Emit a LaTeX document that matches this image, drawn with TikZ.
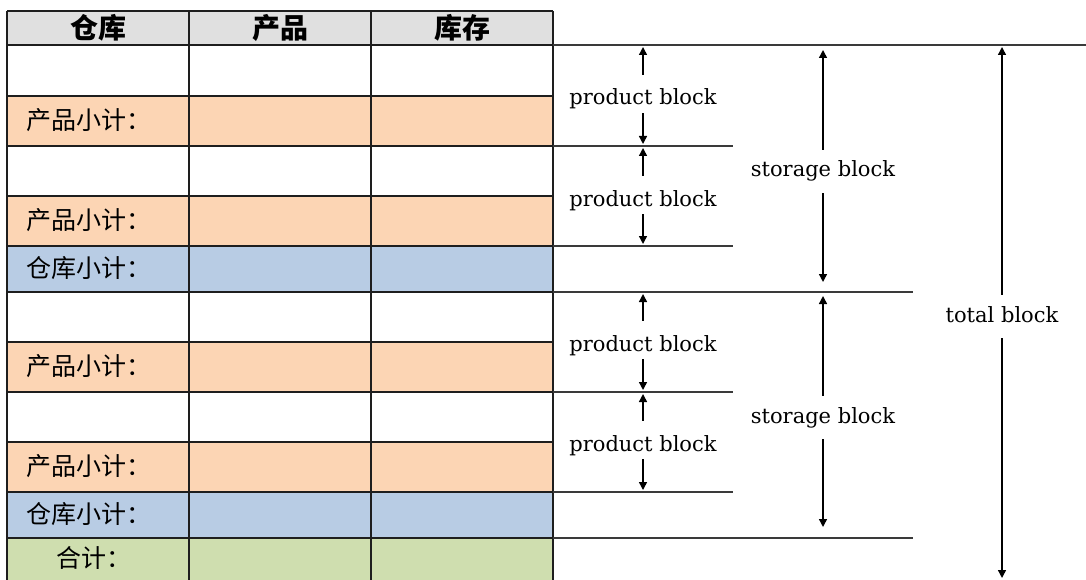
\documentclass[tikz,border=0pt]{standalone}
\usepackage{fontspec}
\setmainfont{DejaVu Serif}
\newfontfamily\cjk{Noto Sans CJK SC}
\usetikzlibrary{arrows.meta}
\definecolor{hdrgray}{HTML}{E0E0E0}
\definecolor{prodsub}{HTML}{FCD5B4}
\definecolor{storesub}{HTML}{B8CCE4}
\definecolor{grandsum}{HTML}{CFDEAF}
\definecolor{gridline}{HTML}{1E1E1E}
\definecolor{markline}{HTML}{3A3A3A}
\tikzset{
  cell/.style={draw=gridline, line width=1.5pt},
  hdrtext/.style={font=\cjk\bfseries\fontsize{28}{28}\selectfont, anchor=center, inner sep=0pt},
  rowtext/.style={font=\cjk\fontsize{25}{25}\selectfont, anchor=west, inner sep=0pt},
  blocklabel/.style={font=\fontsize{21}{21}\selectfont, anchor=base, inner sep=0pt,
                     text height=16pt, text depth=5pt},
  guide/.style={draw=markline, line width=1.5pt},
  dim/.style={draw=black, line width=1.4pt, -{Triangle[width=8pt,length=8pt]}},
}
\begin{document}
\begin{tikzpicture}[x=1pt,y=-1pt]
\useasboundingbox (0,0) rectangle (1086,580);

% table body: row fills
\foreach \top/\bot/\col in {11/45/hdrgray, 45/96/white, 96/146/prodsub, 146/196/white,
    196/246/prodsub, 246/292/storesub, 292/342/white, 342/392/prodsub,
    392/442/white, 442/492/prodsub, 492/538/storesub, 538/584/grandsum}
  \fill[\col] (7,\top) rectangle (553,\bot);

% grid lines
\foreach \y in {11,45,96,146,196,246,292,342,392,442,492,538}
  \draw[cell] (7,\y) -- (553,\y);
\foreach \x in {7,189,371,553}
  \draw[cell] (\x,11) -- (\x,584);

% header
\node[hdrtext] (h1) at (98,28) {仓库};
\node[hdrtext] (h2) at (280,28) {产品};
\node[hdrtext] (h3) at (462,28) {库存};

% row captions
\node[rowtext] (r1) at (26,120) {产品小计：};
\node[rowtext] (r2) at (26,220) {产品小计：};
\node[rowtext] (r3) at (26,268) {仓库小计：};
\node[rowtext] (r4) at (26,366) {产品小计：};
\node[rowtext] (r5) at (26,466) {产品小计：};
\node[rowtext] (r6) at (26,514) {仓库小计：};
\node[rowtext] (r7) at (56,558) {合计：};

% guide lines to the right of the table
\draw[guide] (553,45) -- (1086,45);
\draw[guide] (553,146) -- (733,146);
\draw[guide] (553,246) -- (733,246);
\draw[guide] (553,292) -- (913,292);
\draw[guide] (553,392) -- (733,392);
\draw[guide] (553,492) -- (733,492);
\draw[guide] (553,538) -- (913,538);

% arrow tips on the guide lines
\coordinate (pa1) at (643,47);  \coordinate (pb1) at (643,144);
\coordinate (pa2) at (643,148); \coordinate (pb2) at (643,244);
\coordinate (pa3) at (643,294); \coordinate (pb3) at (643,390);
\coordinate (pa4) at (643,394); \coordinate (pb4) at (643,490);
\coordinate (sa1) at (823,50);  \coordinate (sb1) at (823,282);
\coordinate (sa2) at (823,296); \coordinate (sb2) at (823,527);
\coordinate (ta)  at (1002,47); \coordinate (tb)  at (1002,578);

% product blocks
\foreach \i/\yb in {1/105, 2/206, 3/351, 4/451} {
  \node[blocklabel] (p\i) at (643,\yb) {product block};
  \draw[dim] ([yshift=14pt]p\i.north) -- (pa\i);
  \draw[dim] ([yshift=-3pt]p\i.south) -- (pb\i);
}

% storage blocks
\foreach \i/\yb in {1/177, 2/423} {
  \node[blocklabel] (s\i) at (823,\yb) {storage block};
  \draw[dim] ([yshift=11pt]s\i.north) -- (sa\i);
  \draw[dim] ([yshift=-11pt]s\i.south) -- (sb\i);
}

% total block
\node[blocklabel] (tot) at (1002,322) {total block};
\draw[dim] ([yshift=11pt]tot.north) -- (ta);
\draw[dim] ([yshift=-11pt]tot.south) -- (tb);
\end{tikzpicture}
\end{document}
